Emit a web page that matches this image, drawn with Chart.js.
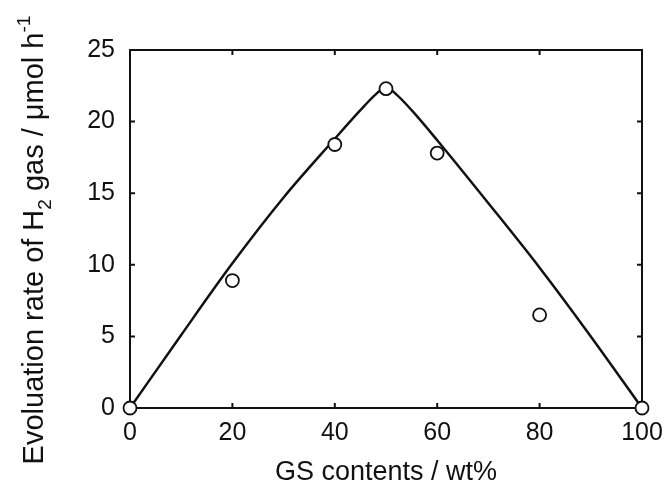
<!DOCTYPE html>
<html>
<head>
<meta charset="utf-8">
<script src="https://cdn.jsdelivr.net/npm/chart.js@4"></script>
<style>
html,body{margin:0;padding:0;background:#fff;}
#wrap{width:667px;height:490px;position:relative;}
</style>
</head>
<body>
<div id="wrap"><canvas id="c" width="667" height="490"></canvas></div>
<script>
// Measured data (GS content in wt% vs H2 evolution rate)
const gsContents = [0, 20, 40, 50, 60, 80, 100];
const evolutionRates = [0, 8.9, 18.4, 22.3, 17.8, 6.5, 0];
// Guide curve
const curveX = [0, 10, 20, 30, 40, 45, 48, 50, 52, 55, 60, 70, 80, 90, 100];
const curveY = [0, 5.1, 10.1, 14.7, 18.8, 20.8, 21.9, 22.4, 21.9, 20.8, 18.7, 14.3, 9.8, 5.0, 0];
const xTicks = [0, 20, 40, 60, 80, 100];
const yTicks = [0, 5, 10, 15, 20, 25];
const xTitle = 'GS contents / wt%';
const yTitleParts = [
  {t: 'Evoluation rate of H', s: 0},
  {t: '2', s: -1},
  {t: ' gas / \u03bcmol h', s: 0},
  {t: '-1', s: 1}
];

const FONT = '"Liberation Sans", Arial, Helvetica, sans-serif';
const INK = '#111';

const frameTicks = {
  id: 'frameTicks',
  beforeDatasetsDraw(chart) {
    const ctx = chart.ctx, a = chart.chartArea;
    const xs = chart.scales.x, ys = chart.scales.y;
    ctx.save();
    ctx.strokeStyle = INK;
    ctx.lineWidth = 2;
    ctx.strokeRect(a.left, a.top, a.right - a.left, a.bottom - a.top);
    const L = 5;
    ctx.beginPath();
    xTicks.forEach(v => {
      const p = xs.getPixelForValue(v);
      ctx.moveTo(p, a.bottom); ctx.lineTo(p, a.bottom - L);
      ctx.moveTo(p, a.top); ctx.lineTo(p, a.top + L);
    });
    yTicks.forEach(v => {
      const p = ys.getPixelForValue(v);
      ctx.moveTo(a.left, p); ctx.lineTo(a.left + L, p);
      ctx.moveTo(a.right, p); ctx.lineTo(a.right - L, p);
    });
    ctx.stroke();
    ctx.restore();
  },
  afterDraw(chart) {
    const ctx = chart.ctx;
    ctx.save();
    const big = '29px ' + FONT, small = '19px ' + FONT;
    let total = 0;
    yTitleParts.forEach(p => { ctx.font = p.s ? small : big; total += ctx.measureText(p.t).width; });
    ctx.translate(34, 240);
    ctx.rotate(-Math.PI / 2);
    ctx.fillStyle = INK;
    ctx.textBaseline = 'alphabetic';
    ctx.textAlign = 'left';
    let x = -total / 2;
    const base = 9;
    yTitleParts.forEach(p => {
      ctx.font = p.s ? small : big;
      const dy = p.s < 0 ? 8 : (p.s > 0 ? -13 : 0);
      ctx.fillText(p.t, x, base + dy);
      x += ctx.measureText(p.t).width;
    });
    ctx.restore();
  }
};

new Chart(document.getElementById('c'), {
  type: 'scatter',
  data: {
    datasets: [
      {
        label: 'measured',
        data: gsContents.map((x, i) => ({x: x, y: evolutionRates[i]})),
        pointRadius: 6.5,
        pointBorderWidth: 1.8,
        pointBorderColor: INK,
        pointBackgroundColor: '#fff',
        showLine: false,
        clip: false,
        order: 0
      },
      {
        label: 'curve',
        data: curveX.map((x, i) => ({x: x, y: curveY[i]})),
        showLine: true,
        pointRadius: 0,
        borderColor: INK,
        borderWidth: 2.5,
        tension: 0.4,
        cubicInterpolationMode: 'monotone',
        clip: false,
        order: 1
      }
    ]
  },
  options: {
    responsive: false,
    animation: false,
    devicePixelRatio: 1,
    layout: {padding: {left: 0, right: 25, top: 50, bottom: 0}},
    plugins: {legend: {display: false}, tooltip: {enabled: false}},
    scales: {
      x: {
        type: 'linear', min: 0, max: 100,
        afterBuildTicks(s) { s.ticks = xTicks.map(v => ({value: v})); },
        afterFit(s) { s.height = 82; s.paddingRight = 0; s.paddingLeft = 0; },
        grid: {display: false, drawTicks: false},
        border: {display: false},
        ticks: {color: INK, font: {family: FONT, size: 25}, padding: 10, maxRotation: 0},
        title: {display: true, text: xTitle, color: INK, font: {family: FONT, size: 27}, padding: {top: 0, bottom: 1}}
      },
      y: {
        type: 'linear', min: 0, max: 25,
        afterBuildTicks(s) { s.ticks = yTicks.map(v => ({value: v})); },
        afterFit(s) { s.width = 130; s.paddingTop = 0; s.paddingBottom = 0; },
        grid: {display: false, drawTicks: false},
        border: {display: false},
        ticks: {color: INK, font: {family: FONT, size: 25}, padding: 15}
      }
    }
  },
  plugins: [frameTicks]
});
</script>
</body>
</html>
